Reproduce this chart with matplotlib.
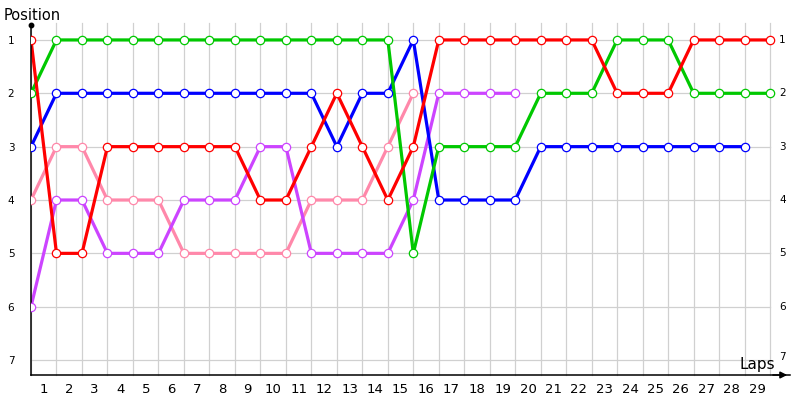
import matplotlib
matplotlib.use("Agg")
import matplotlib.pyplot as plt
import numpy as np

red = [1, 5, 5, 3, 3, 3, 3, 3, 3, 4, 4, 3, 2, 3, 4, 3, 1, 1, 1, 1, 1, 1, 1, 2, 2, 2, 1, 1, 1, 1]
green = [2, 1, 1, 1, 1, 1, 1, 1, 1, 1, 1, 1, 1, 1, 1, 5, 3, 3, 3, 3, 2, 2, 2, 1, 1, 1, 2, 2, 2, 2]
blue = [3, 2, 2, 2, 2, 2, 2, 2, 2, 2, 2, 2, 3, 2, 2, 1, 4, 4, 4, 4, 3, 3, 3, 3, 3, 3, 3, 3, 3]
pink = [4, 3, 3, 4, 4, 4, 5, 5, 5, 5, 5, 4, 4, 4, 3, 2]
purple = [6, 4, 4, 5, 5, 5, 4, 4, 4, 3, 3, 5, 5, 5, 5, 4, 2, 2, 2, 2]

series = [
    (pink, "#ff88aa"),
    (purple, "#cc44ff"),
    (blue, "#0000ff"),
    (green, "#00c800"),
    (red, "#ff0000"),
]

lap_labels = [str(i) for i in range(1, 30)]
positions = [1, 2, 3, 4, 5, 6, 7]

fig = plt.figure(figsize=(8, 4), dpi=100)
ax = fig.add_axes([31 / 800, 25 / 400, 759 / 800, 350 / 400])
ax.set_xlim(0, 29.78)
ax.set_ylim(7.28, 0.72)

grid_c = "#d0d0d0"
for i in range(30):
    ax.plot([i, i], [7.28, 0.68], color=grid_c, lw=0.9, zorder=0, clip_on=False)
for p in positions:
    ax.plot([0, 29], [p, p], color=grid_c, lw=0.9, zorder=0)

for vals, c in series:
    x = np.arange(len(vals))
    ax.plot(x, vals, color=c, lw=2.3, zorder=2, solid_joinstyle="round")
    ax.plot(x, vals, ls="none", marker="o", ms=6, mfc="white", mec=c, mew=0.9, zorder=3)

for s in ["top", "right"]:
    ax.spines[s].set_visible(False)
ax.spines["left"].set_color("black")
ax.spines["bottom"].set_color("black")
ax.spines["left"].set_linewidth(1.1)
ax.spines["bottom"].set_linewidth(1.1)

ax.set_xticks(np.arange(30) + 0.5)
ax.set_xticklabels(lap_labels + [""], fontsize=9.5)
ax.tick_params(axis="x", length=0, pad=6)
ax.set_yticks(positions)
ax.set_yticklabels([str(p) for p in positions], fontsize=7.5)
ax.tick_params(axis="y", length=0, pad=12)
for p in positions:
    ax.text(29.35, p - (0.05 if p == 7 else 0), str(p), fontsize=7.5, ha="left", va="center")

# axis decorations
ax.plot([0], [0.72], marker="o", ms=3.2, color="black", clip_on=False, zorder=5)
ax.annotate("", xy=(29.78, 7.28), xytext=(29.0, 7.28),
            arrowprops=dict(arrowstyle="-|>", color="black", lw=1.1, mutation_scale=10),
            annotation_clip=False)

fig.text(4 / 800, 1 - 16 / 400, "Position", fontsize=10.5, ha="left", va="center")
fig.text(775 / 800, 1 - 365 / 400, "Laps", fontsize=11, ha="right", va="center")

fig.savefig("out.png", dpi=100)
